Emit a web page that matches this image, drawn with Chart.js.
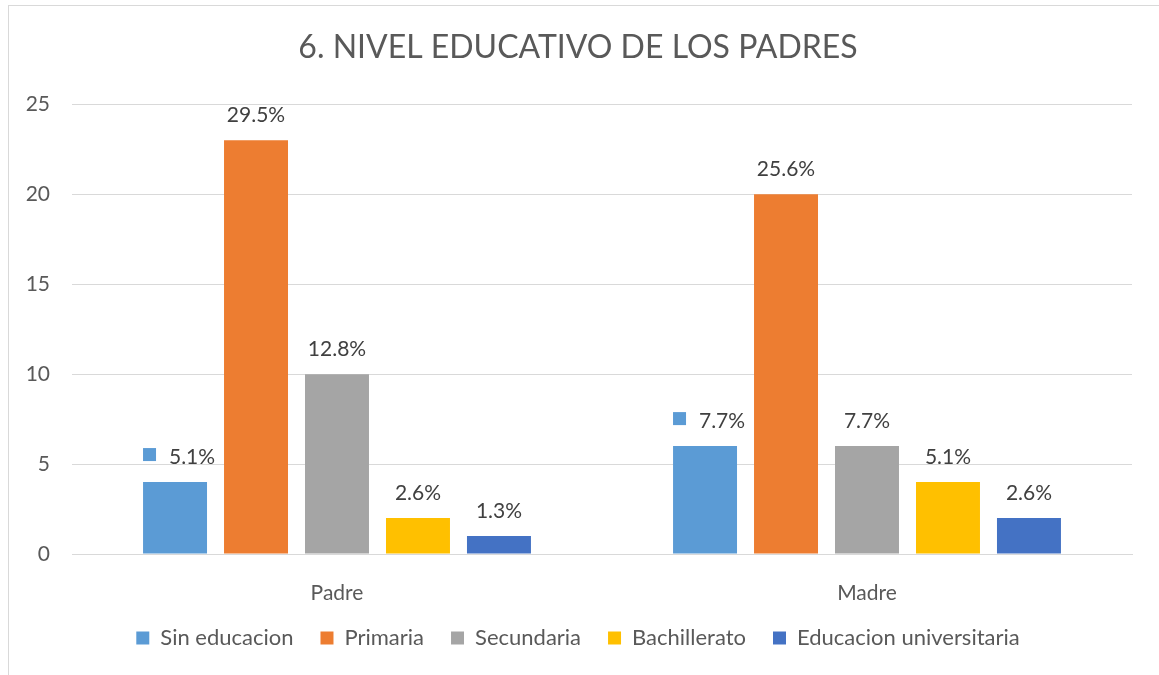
<!DOCTYPE html>
<html>
<head>
<meta charset="utf-8">
<script src="https://cdn.jsdelivr.net/npm/chart.js@4/dist/chart.umd.min.js"></script>
<style>
  html, body { margin: 0; padding: 0; background: #fff; }
  #wrap { position: absolute; left: 0; top: 0; width: 1159px; height: 675px; }
  #frame { position: absolute; left: 8px; top: 5px; width: 1160px; height: 680px; border: 1px solid #d9d9d9; box-sizing: border-box; }
  #myChart { position: absolute; left: 0; top: 0; }
</style>
</head>
<body>
<div id="wrap">
  <div id="frame"></div>
  <canvas id="myChart" width="1159" height="675"></canvas>
</div>
<script>
var categories = ['Padre', 'Madre'];
var seriesNames = ['Sin educacion', 'Primaria', 'Secundaria', 'Bachillerato', 'Educacion universitaria'];
var seriesColors = ['#5B9BD5', '#ED7D31', '#A5A5A5', '#FFC000', '#4472C4'];
var sinEducacion = [4, 6];
var primaria = [23, 20];
var secundaria = [10, 6];
var bachillerato = [2, 4];
var universitaria = [1, 2];
var pctLabels = [
    ['5.1%', '7.7%'],
    ['29.5%', '25.6%'],
    ['12.8%', '7.7%'],
    ['2.6%', '5.1%'],
    ['1.3%', '2.6%']
];
var fontName = "Lato, 'Open Sans', sans-serif";

var values = [sinEducacion, primaria, secundaria, bachillerato, universitaria];
var datasets = values.map(function(v, i) {
    return {
        label: seriesNames[i],
        data: v,
        backgroundColor: seriesColors[i],
        categoryPercentage: 0.764,
        barPercentage: 0.79
    };
});

// percent labels over the bars, first series gets the little key square like the original
var pctPlugin = {
    id: 'pctLabels',
    afterDatasetsDraw: function(chart) {
        var c = chart.ctx;
        c.save();
        c.font = '21px ' + fontName;
        c.fillStyle = '#404040';
        c.textAlign = 'center';
        c.textBaseline = 'middle';
        chart.data.datasets.forEach(function(ds, i) {
            chart.getDatasetMeta(i).data.forEach(function(bar, j) {
                var y = bar.y - 25;
                if (i == 0) {
                    c.fillStyle = seriesColors[0];
                    c.fillRect(bar.x - 32, y - 9, 13, 13);
                    c.fillStyle = '#404040';
                    c.fillText(pctLabels[i][j], bar.x + 17, y);
                } else {
                    c.fillText(pctLabels[i][j], bar.x, y);
                }
            });
        });
        c.restore();
    }
};

var ctx = document.getElementById('myChart').getContext('2d');
var chart = new Chart(ctx, {
    type: 'bar',
    data: {
        labels: categories,
        datasets: datasets
    },
    plugins: [pctPlugin],
    options: {
        responsive: false,
        animation: false,
        layout: {
            padding: { left: 24, right: 27, top: 28, bottom: 16 }
        },
        plugins: {
            title: {
                display: true,
                text: '6. NIVEL EDUCATIVO DE LOS PADRES',
                color: '#595959',
                font: { family: fontName, size: 32, weight: 'normal' },
                padding: { top: 0, bottom: 38 }
            },
            legend: {
                position: 'bottom',
                labels: {
                    color: '#595959',
                    font: { family: fontName, size: 22 },
                    boxWidth: 13,
                    boxHeight: 13,
                    padding: 27
                }
            },
            tooltip: { enabled: false }
        },
        scales: {
            x: {
                grid: { display: false },
                border: { color: '#d9d9d9' },
                ticks: {
                    color: '#595959',
                    font: { family: fontName, size: 21 },
                    padding: 19
                },
                afterFit: function(scale) { scale.height = 46; }
            },
            y: {
                min: 0,
                max: 25,
                ticks: {
                    stepSize: 5,
                    color: '#595959',
                    font: { family: fontName, size: 21 },
                    padding: 22
                },
                grid: { color: '#d9d9d9', drawTicks: false },
                border: { display: false },
                afterFit: function(scale) { scale.width = 48; }
            }
        }
    }
});
</script>
</body>
</html>
